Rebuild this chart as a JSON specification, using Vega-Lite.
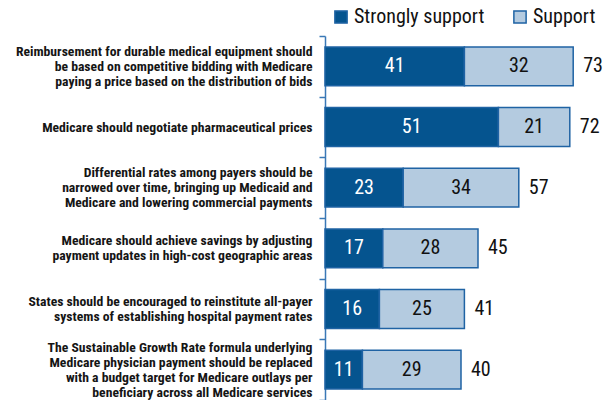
{
  "$schema": "https://vega.github.io/schema/vega-lite/v6.json",
  "autosize": {"type": "none"},
  "padding": {"left": 325, "top": 36, "right": 0, "bottom": 0},
  "width": 289,
  "height": 364,
  "background": "white",
  "config": {
    "view": {"stroke": null}
  },
  "data": {
    "values": [
      {"q": "Reimbursement for durable medical equipment should|be based on competitive bidding with Medicare|paying a price based on the distribution of bids", "level": "Strongly support", "ord": 1, "value": 41},
      {"q": "Reimbursement for durable medical equipment should|be based on competitive bidding with Medicare|paying a price based on the distribution of bids", "level": "Support", "ord": 2, "value": 32},
      {"q": "Medicare should negotiate pharmaceutical prices", "level": "Strongly support", "ord": 1, "value": 51},
      {"q": "Medicare should negotiate pharmaceutical prices", "level": "Support", "ord": 2, "value": 21},
      {"q": "Differential rates among payers should be|narrowed over time, bringing up Medicaid and|Medicare and lowering commercial payments", "level": "Strongly support", "ord": 1, "value": 23},
      {"q": "Differential rates among payers should be|narrowed over time, bringing up Medicaid and|Medicare and lowering commercial payments", "level": "Support", "ord": 2, "value": 34},
      {"q": "Medicare should achieve savings by adjusting|payment updates in high-cost geographic areas", "level": "Strongly support", "ord": 1, "value": 17},
      {"q": "Medicare should achieve savings by adjusting|payment updates in high-cost geographic areas", "level": "Support", "ord": 2, "value": 28},
      {"q": "States should be encouraged to reinstitute all-payer|systems of establishing hospital payment rates", "level": "Strongly support", "ord": 1, "value": 16},
      {"q": "States should be encouraged to reinstitute all-payer|systems of establishing hospital payment rates", "level": "Support", "ord": 2, "value": 25},
      {"q": "The Sustainable Growth Rate formula underlying|Medicare physician payment should be replaced|with a budget target for Medicare outlays per|beneficiary across all Medicare services", "level": "Strongly support", "ord": 1, "value": 11},
      {"q": "The Sustainable Growth Rate formula underlying|Medicare physician payment should be replaced|with a budget target for Medicare outlays per|beneficiary across all Medicare services", "level": "Support", "ord": 2, "value": 29}
    ]
  },
  "encoding": {
    "y": {
      "field": "q",
      "type": "nominal",
      "sort": null,
      "scale": {"paddingInner": 0, "paddingOuter": 0},
      "axis": {
        "title": null,
        "labelExpr": "split(datum.label, '|')",
        "labelFont": "Roboto Condensed",
        "labelFontWeight": "bold",
        "labelFontSize": 13.7,
        "labelColor": "#151515",
        "labelLineHeight": 15,
        "labelLimit": 0,
        "labelPadding": 7,
        "labelAlign": "right",
        "labelBaseline": "middle",
        "labelOffset": {"expr": "-(length(split(datum.value, '|')) - 1) * 7.5"},
        "tickBand": "extent",
        "domainColor": "#3a78b6",
        "domainWidth": 1.5,
        "tickColor": "#3a78b6",
        "tickWidth": 1.5,
        "tickSize": 6
      }
    }
  },
  "layer": [
    {
      "mark": {"type": "bar", "height": {"band": 0.64}, "stroke": "#1f63a4", "strokeWidth": 1.5},
      "encoding": {
        "x": {"field": "value", "type": "quantitative", "stack": "zero", "scale": {"domain": [0, 85], "nice": false}, "axis": null},
        "order": {"field": "ord", "type": "ordinal"},
        "color": {
          "field": "level",
          "type": "nominal",
          "scale": {"domain": ["Strongly support", "Support"], "range": ["#05548f", "#b4cbe0"]},
          "legend": {
            "title": null,
            "orient": "none",
            "legendX": 6,
            "legendY": -29,
            "direction": "horizontal",
            "symbolType": "square",
            "symbolSize": 150,
            "symbolStrokeColor": "#1f63a4",
            "symbolStrokeWidth": 1.5,
            "labelFont": "Roboto Condensed",
            "labelFontSize": 20,
            "labelColor": "#111",
            "labelOffset": 3,
            "columnPadding": 25
          }
        }
      }
    },
    {
      "transform": [
        {"stack": "value", "groupby": ["q"], "sort": [{"field": "ord"}], "as": ["v0", "v1"]},
        {"calculate": "(datum.v0 + datum.v1) / 2", "as": "mid"}
      ],
      "mark": {"type": "text", "fontSize": 20, "font": "Roboto Condensed", "baseline": "middle"},
      "encoding": {
        "x": {"field": "mid", "type": "quantitative"},
        "text": {"field": "value", "type": "quantitative"},
        "color": {
          "field": "level",
          "type": "nominal",
          "scale": {"domain": ["Strongly support", "Support"], "range": ["#ffffff", "#111111"]},
          "legend": null
        }
      }
    },
    {
      "transform": [
        {"aggregate": [{"op": "sum", "field": "value", "as": "total"}], "groupby": ["q"]}
      ],
      "mark": {"type": "text", "fontSize": 20, "font": "Roboto Condensed", "align": "left", "baseline": "middle", "dx": 10, "color": "#111"},
      "encoding": {
        "x": {"field": "total", "type": "quantitative"},
        "text": {"field": "total", "type": "quantitative"}
      }
    }
  ],
  "resolve": {"scale": {"color": "independent"}}
}
